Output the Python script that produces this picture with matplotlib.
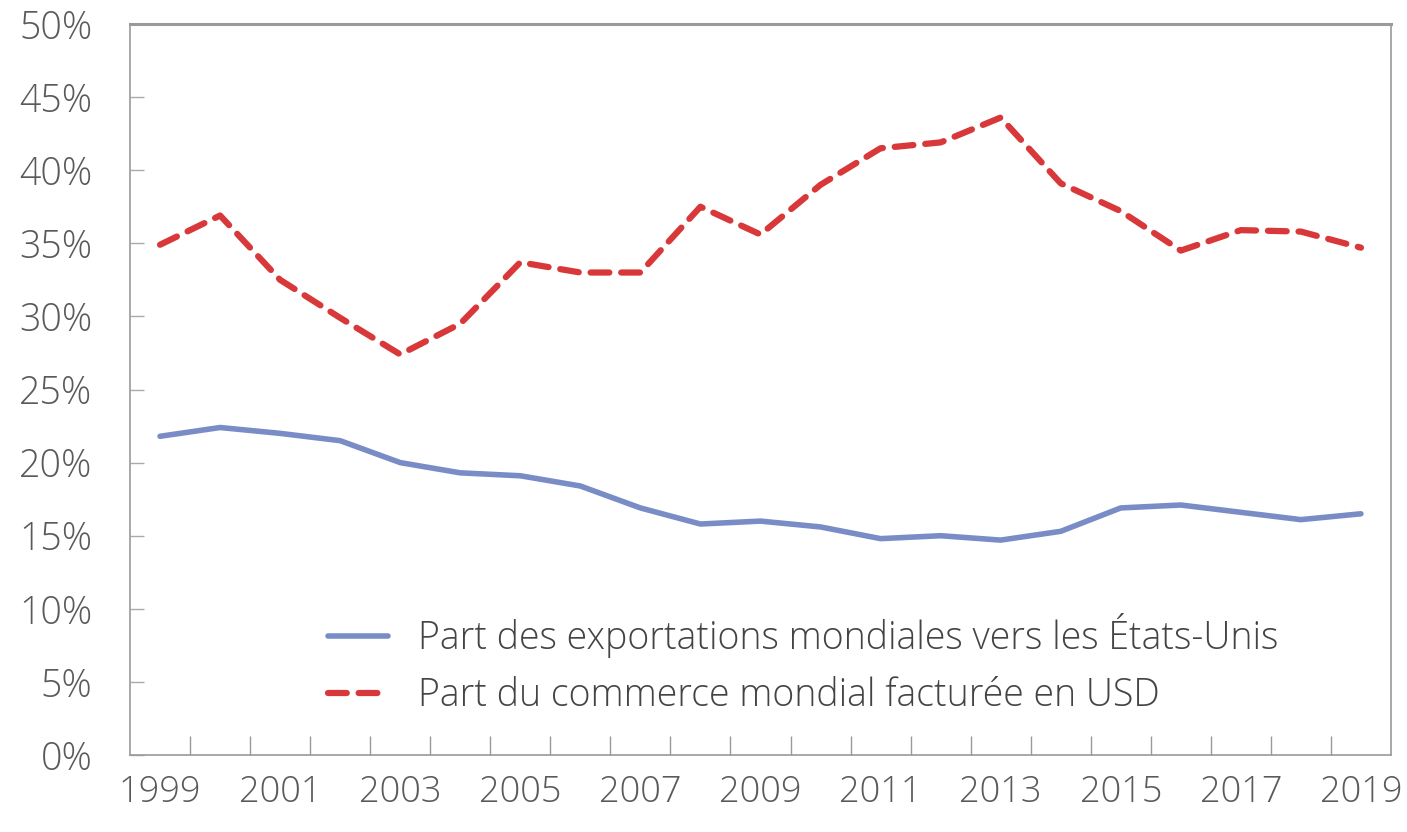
import numpy as np
import matplotlib.pyplot as plt
from matplotlib.ticker import FuncFormatter

plt.rcParams['font.family'] = ['Open Sans', 'DejaVu Sans']
plt.rcParams['font.weight'] = 'light'

years = list(range(1999, 2020))
exports_us = [21.8, 22.4, 22.0, 21.5, 20.0, 19.3, 19.1, 18.4, 16.9, 15.8, 16.0,
              15.6, 14.8, 15.0, 14.7, 15.3, 16.9, 17.1, 16.6, 16.1, 16.5]
usd_invoicing = [34.9, 36.9, 32.5, 29.9, 27.4, 29.5, 33.7, 33.0, 33.0, 37.5, 35.6,
                 39.0, 41.5, 41.9, 43.6, 39.1, 37.2, 34.5, 35.9, 35.8, 34.7]
labels = ["Part des exportations mondiales vers les États-Unis",
          "Part du commerce mondial facturée en USD"]

fig = plt.figure(figsize=(14.07, 8.32), dpi=100)
ax = fig.add_axes([0.0924, 0.0925, 0.8962, 0.8787])

x = np.arange(len(years))
ax.plot(x, exports_us, color='#7a8cc6', lw=4, solid_capstyle='round', label=labels[0])
ax.plot(x, usd_invoicing, color='#d9383a', lw=4.5, dashes=(3, 1.9),
        dash_capstyle='round', label=labels[1])

ax.set_xlim(-0.5, len(years) - 0.5)
ax.set_ylim(0, 50)
ax.set_yticks(np.arange(0, 51, 5))
ax.yaxis.set_major_formatter(FuncFormatter(lambda v, p: f"{v:.0f}%"))

# category axis: labels every 2 years, tick marks between categories
ax.set_xticks(x[::2])
ax.set_xticklabels([str(y) for y in years[::2]])
ax.set_xticks(np.arange(0.5, len(years) - 1, 1), minor=True)
ax.tick_params(axis='x', which='major', length=0, pad=14, labelsize=26, labelcolor='#5a5a5a')
ax.tick_params(axis='x', which='minor', direction='in', length=14, width=1, color='#999999')
ax.tick_params(axis='y', direction='in', length=10, width=1, color='#aaaaaa',
               pad=27, labelsize=27, labelcolor='#5a5a5a')

for side in ['left', 'right', 'bottom']:
    ax.spines[side].set_color('#9a9a9a')
    ax.spines[side].set_linewidth(1.2)
ax.spines['top'].set_color('#9a9a9a')
ax.spines['top'].set_linewidth(2.2)

leg = ax.legend(loc='lower left', bbox_to_anchor=(0.13, 0.008), frameon=False,
                fontsize=27, handlelength=1.6, handletextpad=0.8, labelspacing=0.5,
                labelcolor='#444444')

fig.savefig('out.png', dpi=100, facecolor='white')
